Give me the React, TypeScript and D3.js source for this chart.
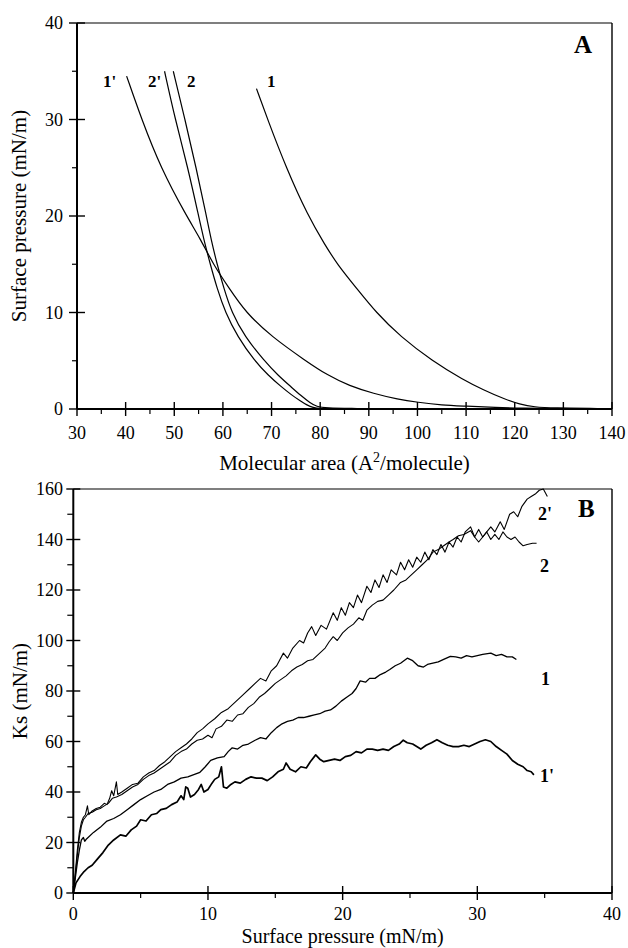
import React from "react";
import * as d3 from "d3";

// ---------- Panel A: surface pressure vs molecular area ----------
const isoAreaTicks = [30, 40, 50, 60, 70, 80, 90, 100, 110, 120, 130, 140];
const isoPressureTicks = [0, 10, 20, 30, 40];

const iso1: [number, number][] = [
  [66.9, 33.2], [69.2, 30], [73, 25], [77.5, 20], [81, 17], [83.5, 15], [87.5, 12.5], [91.5, 10],
  [96.5, 7.5], [103, 5], [109.5, 3], [113.5, 2], [118, 1], [121, 0.5], [124, 0.2], [128, 0.1], [137, 0.05],
];
const iso1p: [number, number][] = [
  [40.2, 34.5], [43.3, 30], [47.2, 25], [52.5, 20], [55.3, 17.7], [58, 15], [61.3, 12.5], [64.7, 10],
  [70, 7.5], [77, 5], [81.5, 3.5], [86, 2.4], [91, 1.6], [96, 1], [100, 0.7], [105, 0.4], [110, 0.3],
  [116, 0.15], [122, 0.08], [127, 0.05],
];
const iso2p: [number, number][] = [
  [48, 35], [50.2, 30], [52.8, 25], [55, 20], [56.1, 17.5], [57.4, 15], [58.8, 12.5], [60.5, 10],
  [63, 7.5], [66.5, 5], [69.3, 3.5], [72, 2.3], [74, 1.5], [76, 0.8], [77.3, 0.4], [78.5, 0.15],
  [80, 0.05], [83, 0.02],
];
const iso2: [number, number][] = [
  [49.8, 35], [52.2, 30], [54.5, 25], [56.6, 20], [57.6, 17.5], [58.8, 15], [60.2, 12.5], [61.8, 10],
  [64.5, 7.5], [68.5, 5], [71.3, 3.5], [74, 2.3], [76, 1.4], [78, 0.6], [79.3, 0.25], [81, 0.1], [87.6, 0.05],
];

// ---------- Panel B: Ks vs surface pressure ----------
const ksPressureTicks = [0, 10, 20, 30, 40];
const ksTicks = [0, 20, 40, 60, 80, 100, 120, 140, 160];

const ks2p: [number, number][] = [
  [0, 0], [0.15, 8], [0.3, 17], [0.45, 24], [0.6, 28], [0.75, 30], [0.9, 31], [1.05, 34.5], [1.15, 31],
  [1.4, 32.5], [1.7, 33.5], [2, 34], [2.3, 35.5], [2.5, 35], [2.7, 37.5], [2.85, 40.5], [3, 38.5],
  [3.2, 44], [3.3, 39], [3.6, 40], [4, 41.5], [4.4, 43], [4.8, 43.5], [5.2, 46], [5.6, 47.5], [6, 48.5],
  [6.4, 50.5], [6.8, 52], [7.2, 54], [7.6, 56], [8, 57.5], [8.4, 59], [8.8, 61], [9.2, 63.5], [9.6, 65],
  [10, 67], [10.5, 69], [11, 71.5], [11.5, 73], [12, 75.5], [12.5, 78], [13.1, 81], [13.5, 83], [13.9, 85],
  [14.3, 84], [14.7, 88], [15.1, 90], [15.6, 95], [15.9, 93], [16.3, 97], [16.8, 100], [17.1, 99],
  [17.4, 103], [17.7, 105.5], [18, 102], [18.4, 106], [18.8, 104.5], [19.3, 111], [19.6, 108],
  [19.9, 113], [20.2, 110], [20.5, 115], [20.8, 113], [21.1, 118], [21.4, 115], [21.8, 121.5],
  [22.1, 119], [22.4, 124], [22.7, 121], [23, 126], [23.3, 123], [23.6, 128], [24, 126], [24.3, 131],
  [24.6, 128], [24.9, 132], [25.2, 129], [25.5, 133], [25.8, 131], [26.1, 135], [26.4, 132],
  [26.7, 136], [27, 134], [27.3, 138], [27.6, 135], [27.9, 139], [28.2, 137], [28.5, 141], [28.8, 139],
  [29.1, 143], [29.5, 145], [29.8, 141], [30.1, 144], [30.4, 141], [30.7, 143], [31, 145], [31.3, 143],
  [31.7, 147], [32, 144], [32.4, 150], [32.7, 151], [33, 149], [33.3, 153], [33.7, 156], [34, 157],
  [34.3, 158], [34.6, 159.5], [34.9, 160], [35.2, 157],
];
const ks2: [number, number][] = [
  [0, 0], [0.15, 7], [0.3, 15], [0.45, 22], [0.6, 26.5], [0.75, 29], [0.9, 30], [1.1, 31.5], [1.4, 32],
  [1.7, 33], [2, 33.5], [2.3, 34.5], [2.6, 35.5], [2.9, 37.5], [3.2, 38], [3.6, 39], [4, 40.5], [4.4, 42],
  [4.8, 43], [5.2, 45], [5.6, 46.5], [6, 47.5], [6.4, 49], [6.8, 50.5], [7.2, 52], [7.6, 54.5], [8, 56],
  [8.4, 57], [8.8, 59], [9.2, 60.5], [9.6, 61], [10, 62.5], [10.3, 61.5], [10.6, 65], [11, 66],
  [11.4, 68.5], [11.8, 68], [12.2, 70.5], [12.6, 71], [13, 73.5], [13.4, 75], [13.8, 77.5], [14.2, 79],
  [14.6, 81], [15, 83], [15.4, 84.5], [15.8, 86], [16.2, 88], [16.6, 89.5], [17, 90.5], [17.4, 92],
  [17.8, 92.5], [18.3, 95], [18.7, 97], [19, 99.5], [19.3, 101.5], [19.6, 100], [20, 103], [20.4, 105],
  [20.8, 106.5], [21.2, 109], [21.5, 108], [21.8, 112], [22.2, 114], [22.6, 115.5], [23, 116],
  [23.4, 118], [23.8, 120], [24.3, 123], [24.7, 124], [25.1, 126], [25.5, 128], [25.9, 130], [26.3, 132],
  [26.7, 135], [27.1, 136], [27.5, 137.5], [27.9, 139], [28.2, 140], [28.6, 141.5], [29, 142],
  [29.5, 143.5], [29.8, 141], [30.1, 139], [30.4, 141], [30.7, 143], [31, 140], [31.3, 142], [31.6, 140],
  [31.9, 143], [32.2, 141], [32.5, 140], [32.8, 141], [33.1, 139], [33.4, 137.5], [33.7, 138],
  [34.1, 138.5], [34.4, 138.5],
];
const ks1: [number, number][] = [
  [0, 0], [0.15, 6], [0.3, 12], [0.45, 17], [0.6, 21], [0.75, 22], [0.85, 20.5], [1, 21.5], [1.5, 24],
  [2, 26], [2.5, 28.5], [3, 29.5], [3.5, 31], [4, 33], [4.5, 35], [5, 37], [5.5, 38.5], [6, 40], [6.5, 41],
  [7, 43], [7.5, 44], [8, 45.5], [8.5, 46], [9, 47], [9.4, 47.8], [9.8, 50], [10.2, 52.5], [10.7, 53.5],
  [11.2, 54], [11.5, 56], [11.8, 57.5], [12.2, 57], [12.6, 58.5], [13, 59], [13.5, 60.5], [13.9, 61.5],
  [14.3, 61], [14.7, 63.5], [15.1, 65.5], [15.5, 67], [15.9, 68], [16.3, 68.5], [16.7, 69.5],
  [17.1, 69.5], [17.5, 70], [17.9, 70.5], [18.3, 71], [18.7, 72], [19.1, 72.5], [19.5, 74], [19.9, 76],
  [20.3, 77.5], [20.7, 79], [21, 81], [21.3, 84], [21.7, 83.5], [22, 85], [22.4, 85], [22.8, 86.5],
  [23.2, 87.5], [23.5, 88.5], [23.9, 90], [24.3, 91], [24.8, 93], [25.2, 92], [25.6, 90], [26, 89.5],
  [26.3, 90.5], [26.7, 91], [27.1, 91.5], [27.5, 92.5], [28, 93.7], [28.4, 93.5], [28.8, 93], [29.2, 94],
  [29.6, 93.5], [30, 94], [30.4, 94.5], [31, 95], [31.4, 94], [31.8, 94.5], [32.2, 93.5], [32.6, 93.5],
  [32.9, 92.5],
];
const ks1p: [number, number][] = [
  [0, 0], [0.2, 4], [0.5, 6.5], [0.8, 8.5], [1.1, 10], [1.4, 11], [1.8, 13.5], [2.2, 16], [2.6, 19],
  [3, 21], [3.5, 23], [3.9, 22.5], [4.3, 25], [4.7, 26.5], [5, 29], [5.4, 28.5], [5.8, 31], [6.2, 31.5],
  [6.5, 33], [6.9, 33.5], [7.3, 35], [7.7, 36], [8, 38.5], [8.2, 37], [8.35, 42], [8.5, 41.5], [8.7, 38],
  [9, 39], [9.3, 41], [9.5, 43], [9.7, 40], [10, 41], [10.3, 43.5], [10.5, 45], [10.8, 46],
  [11, 50], [11.15, 42], [11.4, 41.5], [11.7, 43], [12, 44], [12.4, 43.5], [12.8, 45], [13.2, 46],
  [13.6, 45.5], [14, 45.5], [14.4, 44.5], [14.8, 46], [15.2, 48], [15.6, 49], [15.8, 51.5],
  [16.1, 49], [16.5, 48], [16.9, 50], [17.3, 49.5], [17.6, 52], [18, 54.7], [18.3, 53], [18.6, 52],
  [19, 52.5], [19.4, 53], [19.8, 52.5], [20.2, 54], [20.6, 54.5], [21, 56], [21.4, 55.5], [21.8, 57],
  [22.2, 57], [22.6, 56.5], [23, 57], [23.4, 56.5], [23.8, 58], [24.2, 59], [24.5, 60.5], [24.8, 59.5],
  [25.2, 59], [25.5, 58], [25.8, 57], [26.2, 58.5], [26.6, 59.5], [27, 60.7], [27.4, 59.5], [27.8, 58.5],
  [28.2, 58], [28.6, 58], [29, 58.5], [29.4, 58], [29.8, 59], [30.2, 60], [30.6, 60.7], [31, 60],
  [31.4, 58], [31.8, 56.5], [32.2, 55], [32.6, 52.5], [33, 51], [33.4, 50], [33.7, 48.5], [34, 48],
  [34.2, 46.8],
];

const FONT = "'Liberation Serif', 'Times New Roman', 'DejaVu Serif', serif";

export default function App() {
  // panel A scales
  const xA = d3.scaleLinear().domain([30, 140]).range([77, 612]);
  const yA = d3.scaleLinear().domain([0, 40]).range([409, 23]);
  // panel B scales
  const xB = d3.scaleLinear().domain([0, 40]).range([73.3, 612]);
  const yB = d3.scaleLinear().domain([0, 160]).range([893, 489]);

  const lineA = d3
    .line<[number, number]>()
    .x((d) => xA(d[0]))
    .y((d) => yA(d[1]))
    .curve(d3.curveBasis);
  const lineB = d3
    .line<[number, number]>()
    .x((d) => xB(d[0]))
    .y((d) => yB(d[1]));

  const minorA_x = d3.range(35, 140, 10);
  const minorA_y = d3.range(5, 40, 10);
  const minorB_x = d3.range(5, 40, 10);
  const minorB_y = d3.range(10, 160, 20);

  const tickFont = 18;
  const titleFont = 21;
  const ts = { fontFamily: FONT } as React.CSSProperties;

  return (
    <svg
      width={628}
      height={948}
      style={{ position: "absolute", left: 0, top: 0, background: "#fff", fontFamily: FONT }}
    >
      <rect x={0} y={0} width={628} height={948} fill="#fff" />

      {/* ===== Panel A ===== */}
      <line x1={xA(30)} x2={xA(140)} y1={yA(40)} y2={yA(40)} stroke="#555" strokeWidth={1.6} />
      <line x1={xA(140)} x2={xA(140)} y1={yA(40)} y2={yA(0)} stroke="#000" strokeWidth={1.4} />
      <line x1={xA(30)} x2={xA(30)} y1={yA(40)} y2={yA(0)} stroke="#000" strokeWidth={2} />
      <line x1={xA(30)} x2={xA(140)} y1={yA(0)} y2={yA(0)} stroke="#000" strokeWidth={2} />
      {isoAreaTicks.map((t) => (
        <g key={"ax" + t}>
          <line x1={xA(t)} x2={xA(t)} y1={yA(0) - 7} y2={yA(0) + 7} stroke="#000" strokeWidth={1.4} />
          <text x={xA(t)} y={439} fontSize={tickFont} textAnchor="middle" style={ts}>
            {t}
          </text>
        </g>
      ))}
      {minorA_x.map((t) => (
        <line key={"amx" + t} x1={xA(t)} x2={xA(t)} y1={yA(0)} y2={yA(0) + 5} stroke="#000" strokeWidth={1.2} />
      ))}
      {isoPressureTicks.map((t) => (
        <g key={"ay" + t}>
          <line x1={xA(30) - 8} x2={xA(30) + 8} y1={yA(t)} y2={yA(t)} stroke="#000" strokeWidth={1.4} />
          <text x={63} y={yA(t)} dy="0.35em" fontSize={tickFont} textAnchor="end" style={ts}>
            {t}
          </text>
        </g>
      ))}
      {minorA_y.map((t) => (
        <line key={"amy" + t} x1={xA(30) - 5} x2={xA(30)} y1={yA(t)} y2={yA(t)} stroke="#000" strokeWidth={1.2} />
      ))}
      <path d={lineA(iso1) || ""} fill="none" stroke="#000" strokeWidth={1.2} />
      <path d={lineA(iso1p) || ""} fill="none" stroke="#000" strokeWidth={1.2} />
      <path d={lineA(iso2p) || ""} fill="none" stroke="#000" strokeWidth={1.2} />
      <path d={lineA(iso2) || ""} fill="none" stroke="#000" strokeWidth={1.2} />
      <text x={103} y={87} fontSize={17} fontWeight="bold" style={ts}>1'</text>
      <text x={148} y={87} fontSize={17} fontWeight="bold" style={ts}>2'</text>
      <text x={187} y={87} fontSize={17} fontWeight="bold" style={ts}>2</text>
      <text x={267} y={87} fontSize={17} fontWeight="bold" style={ts}>1</text>
      <text x={574} y={53} fontSize={25} fontWeight="bold" style={ts}>A</text>
      <text x={344.5} y={470} fontSize={titleFont} textAnchor="middle" style={ts}>
        Molecular area (A
        <tspan fontSize={14} dy={-8}>2</tspan>
        <tspan dy={8}>/molecule)</tspan>
      </text>
      <text
        transform={`translate(26,${(yA(0) + yA(40)) / 2}) rotate(-90)`}
        fontSize={titleFont}
        textAnchor="middle"
        style={ts}
      >
        Surface pressure (mN/m)
      </text>

      {/* ===== Panel B ===== */}
      <line x1={xB(0)} x2={xB(40)} y1={yB(160)} y2={yB(160)} stroke="#555" strokeWidth={1.6} />
      <line x1={xB(40)} x2={xB(40)} y1={yB(160)} y2={yB(0)} stroke="#000" strokeWidth={1.4} />
      <line x1={xB(0)} x2={xB(0)} y1={yB(160)} y2={yB(0)} stroke="#000" strokeWidth={2} />
      <line x1={xB(0)} x2={xB(40)} y1={yB(0)} y2={yB(0)} stroke="#000" strokeWidth={2.2} />
      {ksPressureTicks.map((t) => (
        <g key={"bx" + t}>
          <line x1={xB(t)} x2={xB(t)} y1={yB(0) - 7} y2={yB(0) + 7} stroke="#000" strokeWidth={1.4} />
          <text x={xB(t)} y={920} fontSize={tickFont} textAnchor="middle" style={ts}>
            {t}
          </text>
        </g>
      ))}
      {minorB_x.map((t) => (
        <line key={"bmx" + t} x1={xB(t)} x2={xB(t)} y1={yB(0)} y2={yB(0) + 5} stroke="#000" strokeWidth={1.2} />
      ))}
      {ksTicks.map((t) => (
        <g key={"by" + t}>
          <line x1={xB(0) - 7} x2={xB(0) + 7} y1={yB(t)} y2={yB(t)} stroke="#000" strokeWidth={1.4} />
          <text x={63} y={yB(t)} dy="0.35em" fontSize={tickFont} textAnchor="end" style={ts}>
            {t}
          </text>
        </g>
      ))}
      {minorB_y.map((t) => (
        <line key={"bmy" + t} x1={xB(0) - 6} x2={xB(0)} y1={yB(t)} y2={yB(t)} stroke="#000" strokeWidth={1.2} />
      ))}
      <path d={lineB(ks2p) || ""} fill="none" stroke="#000" strokeWidth={1.1} strokeLinejoin="round" />
      <path d={lineB(ks2) || ""} fill="none" stroke="#000" strokeWidth={1.1} strokeLinejoin="round" />
      <path d={lineB(ks1) || ""} fill="none" stroke="#000" strokeWidth={1.3} strokeLinejoin="round" />
      <path d={lineB(ks1p) || ""} fill="none" stroke="#000" strokeWidth={1.7} strokeLinejoin="round" />
      <text x={538} y={520} fontSize={18} fontWeight="bold" style={ts}>2'</text>
      <text x={540} y={572} fontSize={18} fontWeight="bold" style={ts}>2</text>
      <text x={541} y={685} fontSize={18} fontWeight="bold" style={ts}>1</text>
      <text x={540} y={782} fontSize={18} fontWeight="bold" style={ts}>1'</text>
      <text x={578} y={517} fontSize={25} fontWeight="bold" style={ts}>B</text>
      <text x={(xB(0) + xB(40)) / 2} y={943} fontSize={20} textAnchor="middle" style={ts}>
        Surface pressure (mN/m)
      </text>
      <text
        transform={`translate(27,${(yB(0) + yB(160)) / 2}) rotate(-90)`}
        fontSize={titleFont}
        textAnchor="middle"
        style={ts}
      >
        Ks (mN/m)
      </text>
    </svg>
  );
}
